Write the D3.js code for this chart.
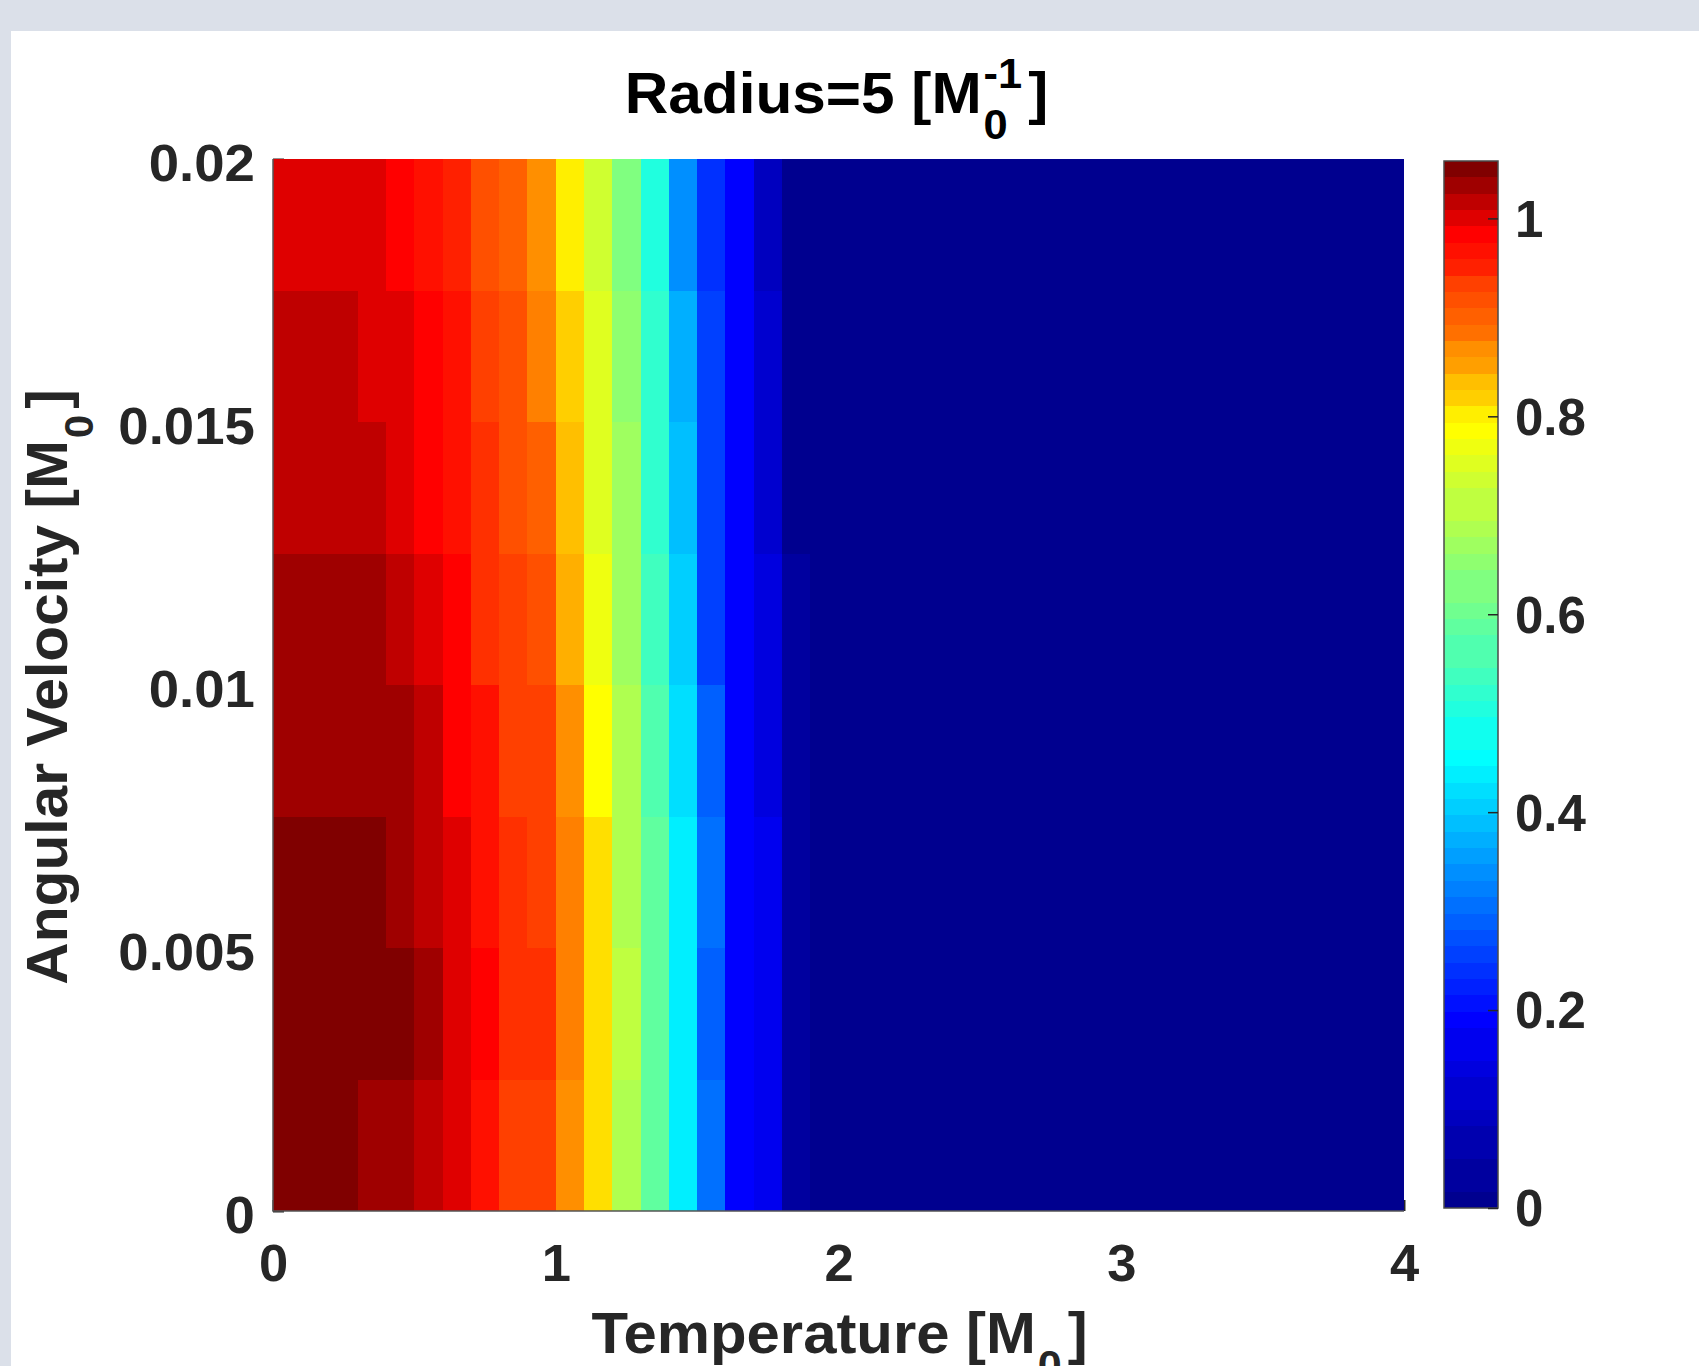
<!DOCTYPE html>
<html>
<head>
<meta charset="utf-8">
<script src="https://cdn.jsdelivr.net/npm/d3@7"></script>
<style>
  html, body { margin: 0; padding: 0; background: #dbe0e9; }
  svg { display: block; }
</style>
</head>
<body>
<script>
// Cell lower edges along each axis
const temperature = [0.0, 0.1, 0.2, 0.3, 0.4, 0.5, 0.6, 0.7, 0.8, 0.9,
                     1.0, 1.1, 1.2, 1.3, 1.4, 1.5, 1.6, 1.7, 1.8, 1.9,
                     2.0, 2.1, 2.2, 2.3, 2.4, 2.5, 2.6, 2.7, 2.8, 2.9,
                     3.0, 3.1, 3.2, 3.3, 3.4, 3.5, 3.6, 3.7, 3.8, 3.9];
const angularVelocity = [0, 0.0025, 0.005, 0.0075, 0.01, 0.0125, 0.015, 0.0175];

// One row per angular velocity, one value per temperature cell
const row0000 = [1.050, 1.050, 1.050, 1.033, 1.033, 1.016, 1.000, 0.970, 0.929, 0.929,
                 0.864, 0.811, 0.690, 0.586, 0.438, 0.304, 0.195, 0.168, 0.035, 0.007,
                 0.006, 0.005, 0.004, 0.004, 0.003, 0.003, 0.002, 0.002, 0.002, 0.001,
                 0.001, 0.001, 0.001, 0.001, 0.000, 0.000, 0.000, 0.000, 0.000, 0.000];
const row0025 = [1.050, 1.050, 1.050, 1.050, 1.050, 1.033, 1.000, 0.983, 0.943, 0.943,
                 0.875, 0.811, 0.710, 0.586, 0.438, 0.289, 0.195, 0.168, 0.035, 0.007,
                 0.006, 0.005, 0.004, 0.004, 0.003, 0.003, 0.002, 0.002, 0.002, 0.001,
                 0.001, 0.001, 0.001, 0.001, 0.000, 0.000, 0.000, 0.000, 0.000, 0.000];
const row0050 = [1.050, 1.050, 1.050, 1.050, 1.033, 1.016, 1.000, 0.970, 0.943, 0.929,
                 0.875, 0.811, 0.690, 0.586, 0.438, 0.304, 0.195, 0.168, 0.035, 0.007,
                 0.006, 0.005, 0.004, 0.004, 0.003, 0.003, 0.002, 0.002, 0.002, 0.001,
                 0.001, 0.001, 0.001, 0.001, 0.000, 0.000, 0.000, 0.000, 0.000, 0.000];
const row0075 = [1.033, 1.033, 1.033, 1.033, 1.033, 1.016, 0.983, 0.970, 0.929, 0.929,
                 0.864, 0.790, 0.690, 0.564, 0.421, 0.289, 0.195, 0.142, 0.035, 0.007,
                 0.006, 0.005, 0.004, 0.004, 0.003, 0.003, 0.002, 0.002, 0.002, 0.001,
                 0.001, 0.001, 0.001, 0.001, 0.000, 0.000, 0.000, 0.000, 0.000, 0.000];
const row0100 = [1.033, 1.033, 1.033, 1.033, 1.016, 1.000, 0.983, 0.943, 0.929, 0.916,
                 0.843, 0.770, 0.670, 0.543, 0.404, 0.258, 0.195, 0.142, 0.035, 0.007,
                 0.006, 0.005, 0.004, 0.004, 0.003, 0.003, 0.002, 0.002, 0.002, 0.001,
                 0.001, 0.001, 0.001, 0.001, 0.000, 0.000, 0.000, 0.000, 0.000, 0.000];
const row0125 = [1.016, 1.016, 1.016, 1.016, 1.000, 0.983, 0.970, 0.943, 0.916, 0.902,
                 0.833, 0.750, 0.670, 0.521, 0.388, 0.258, 0.195, 0.115, 0.008, 0.007,
                 0.006, 0.005, 0.004, 0.004, 0.003, 0.003, 0.002, 0.002, 0.002, 0.001,
                 0.001, 0.001, 0.001, 0.001, 0.000, 0.000, 0.000, 0.000, 0.000, 0.000];
const row0150 = [1.016, 1.016, 1.016, 1.000, 1.000, 0.983, 0.970, 0.929, 0.916, 0.875,
                 0.822, 0.750, 0.650, 0.521, 0.371, 0.258, 0.195, 0.115, 0.008, 0.007,
                 0.006, 0.005, 0.004, 0.004, 0.003, 0.003, 0.002, 0.002, 0.002, 0.001,
                 0.001, 0.001, 0.001, 0.001, 0.000, 0.000, 0.000, 0.000, 0.000, 0.000];
const row0175 = [1.000, 1.000, 1.000, 1.000, 0.983, 0.970, 0.956, 0.916, 0.902, 0.864,
                 0.801, 0.730, 0.630, 0.499, 0.337, 0.242, 0.195, 0.088, 0.008, 0.007,
                 0.006, 0.005, 0.004, 0.004, 0.003, 0.003, 0.002, 0.002, 0.002, 0.001,
                 0.001, 0.001, 0.001, 0.001, 0.000, 0.000, 0.000, 0.000, 0.000, 0.000];
const rows = [row0000, row0025, row0050, row0075, row0100, row0125, row0150, row0175];

const xTicks = [0, 1, 2, 3, 4];
const yTicks = [0, 0.005, 0.01, 0.015, 0.02];
const colorTicks = [0, 0.2, 0.4, 0.6, 0.8, 1];
const xDomain = [0, 4];
const yDomain = [0, 0.02];
const colorRange = [0, 1.058];

// Colour map: value -> position in a 64-entry jet table (piecewise linear)
const cmapValues = [0.008, 0.195, 0.32, 0.455, 0.63, 0.79, 0.875, 0.983, 1.05];
const cmapIndex  = [1,     8,     16,   24,    32,   40,   48,    56,    64];

// ---- layout ----
const W = 1699, H = 1366;
const plot = { left: 273, right: 1404, top: 159, bottom: 1211 };
const bar = { left: 1444, right: 1498, top: 161, bottom: 1208 };
const FONT = "'Liberation Sans', Arial, Helvetica, sans-serif";
const INK = "#262626";

// MATLAB-style jet table with m entries
function jetColormap(m) {
  const n = Math.ceil(m / 4);
  const u = [];
  for (let i = 1; i <= n; i++) u.push(i / n);
  for (let i = 1; i <= n - 1; i++) u.push(1);
  for (let i = n; i >= 1; i--) u.push(i / n);
  const g0 = Math.ceil(n / 2) - (m % 4 === 1 ? 1 : 0);
  const J = Array.from({ length: m }, () => [0, 0, 0]);
  u.forEach((val, k) => {
    const g = g0 + k + 1, r = g + n, b = g - n;
    if (r >= 1 && r <= m) J[r - 1][0] = val;
    if (g >= 1 && g <= m) J[g - 1][1] = val;
    if (b >= 1 && b <= m) J[b - 1][2] = val;
  });
  return J.map(c => d3.rgb(c[0] * 255, c[1] * 255, c[2] * 255).formatHex());
}
const jet = jetColormap(64);
const toIndex = d3.scaleLinear().domain(cmapValues).range(cmapIndex).clamp(true);
const color = v => jet[Math.min(64, Math.max(1, Math.round(toIndex(v) + 1e-9))) - 1];

const x = d3.scaleLinear().domain(xDomain).range([plot.left, plot.right]);
const y = d3.scaleLinear().domain(yDomain).range([plot.bottom, plot.top]);
const yc = d3.scaleLinear().domain(colorRange).range([bar.bottom, bar.top]);

const svg = d3.select("body").append("svg").attr("width", W).attr("height", H);
svg.append("rect").attr("width", W).attr("height", H).attr("fill", "#dbe0e9");
svg.append("rect").attr("x", 11).attr("y", 31).attr("width", W - 11).attr("height", H - 31).attr("fill", "#ffffff");

// Text made of plain runs and stacked sub/superscripts, centred on its origin
function richText(parent, parts, size, fill) {
  const g = parent.append("g")
    .attr("font-family", FONT).attr("font-weight", "bold").attr("fill", fill);
  let cx = 0;
  const small = size * 0.72;
  parts.forEach(p => {
    if (p.text !== undefined) {
      const t = g.append("text").attr("x", cx).attr("y", 0).attr("font-size", size).text(p.text);
      cx += t.node().getComputedTextLength();
    } else {
      let w = 0;
      cx += size * 0.03;
      if (p.sub !== undefined) {
        const t = g.append("text").attr("x", cx).attr("y", size * 0.45).attr("font-size", small).text(p.sub);
        w = Math.max(w, t.node().getComputedTextLength());
      }
      if (p.sup !== undefined) {
        const t = g.append("text").attr("x", cx).attr("y", -size * 0.43).attr("font-size", small).text(p.sup);
        w = Math.max(w, t.node().getComputedTextLength());
      }
      cx += w + size * 0.1;
    }
  });
  g.selectAll("text").attr("dx", -cx / 2);
  return g;
}

// ---- axes (tick marks sit beneath the cells) ----
const axisFont = 51;
const gx = svg.append("g").attr("transform", `translate(0,${plot.bottom})`)
  .call(d3.axisBottom(x).tickValues(xTicks).tickFormat(d => String(d)).tickSize(-11).tickPadding(34));
const gy = svg.append("g").attr("transform", `translate(${plot.left},0)`)
  .call(d3.axisLeft(y).tickValues(yTicks).tickFormat(d => String(d)).tickSize(-11).tickPadding(17));
[gx, gy].forEach(g => {
  g.attr("font-family", FONT).attr("font-size", axisFont).attr("font-weight", "bold");
  g.select(".domain").remove();
  g.selectAll(".tick line").attr("stroke", INK).attr("stroke-width", 2);
  g.selectAll(".tick text").attr("fill", INK);
});
gy.selectAll(".tick text").attr("dy", "0.42em").attr("transform", "scale(1.07,1)");
gx.selectAll(".tick text").attr("transform", "scale(1.03,1)");

// ---- heatmap cells ----
const cells = [];
rows.forEach((vals, j) => {
  vals.forEach((v, i) => {
    cells.push({
      x0: temperature[i],
      x1: i + 1 < temperature.length ? temperature[i + 1] : xDomain[1],
      y0: angularVelocity[j],
      y1: j + 1 < angularVelocity.length ? angularVelocity[j + 1] : yDomain[1],
      v
    });
  });
});
svg.append("g").attr("shape-rendering", "crispEdges")
  .selectAll("rect").data(cells).join("rect")
  .attr("x", d => x(d.x0))
  .attr("y", d => y(d.y1))
  .attr("width", d => x(d.x1) - x(d.x0))
  .attr("height", d => y(d.y0) - y(d.y1))
  .attr("fill", d => color(d.v));

// axis lines on top of the cells
svg.append("path")
  .attr("d", `M${plot.left},${plot.top}V${plot.bottom}H${plot.right}`)
  .attr("fill", "none").attr("stroke", "#555555").attr("stroke-width", 1.5);

// ---- colorbar: 64 equal bands across the colour range ----
const nBands = 64;
const bands = d3.range(nBands).map(k => {
  const lo = colorRange[0] + (colorRange[1] - colorRange[0]) * k / nBands;
  const hi = colorRange[0] + (colorRange[1] - colorRange[0]) * (k + 1) / nBands;
  return { lo, hi, c: color((lo + hi) / 2) };
});
svg.append("g").attr("shape-rendering", "crispEdges")
  .selectAll("rect").data(bands).join("rect")
  .attr("x", bar.left).attr("width", bar.right - bar.left)
  .attr("y", d => yc(d.hi)).attr("height", d => yc(d.lo) - yc(d.hi))
  .attr("fill", d => d.c);
svg.append("rect")
  .attr("x", bar.left).attr("y", bar.top)
  .attr("width", bar.right - bar.left).attr("height", bar.bottom - bar.top)
  .attr("fill", "none").attr("stroke", "#4a4a4a").attr("stroke-width", 1.5);
const gc = svg.append("g").attr("transform", `translate(${bar.right},0)`)
  .call(d3.axisRight(yc).tickValues(colorTicks).tickFormat(d => String(d)).tickSize(-10).tickPadding(17));
gc.attr("font-family", FONT).attr("font-size", axisFont).attr("font-weight", "bold");
gc.select(".domain").remove();
gc.selectAll(".tick line").attr("stroke", INK).attr("stroke-width", 1.5);
gc.selectAll(".tick text").attr("fill", INK).attr("dy", "0.35em");

// ---- titles ----
const cx = (plot.left + plot.right) / 2;
richText(svg, [{ text: "Radius=5 [M" }, { sub: "0", sup: "-1" }, { text: "]" }], 58, "#000000")
  .attr("transform", `translate(${cx - 2},113) scale(1.04,1)`);
richText(svg, [{ text: "Temperature [M" }, { sub: "0" }, { text: "]" }], 57, INK)
  .attr("transform", `translate(${cx + 1},1353) scale(1.05,1)`);
richText(svg, [{ text: "Angular Velocity [M" }, { sub: "0" }, { text: "]" }], 57, INK)
  .attr("transform", `translate(67,687) rotate(-90) scale(1.03,1)`);
</script>
</body>
</html>
